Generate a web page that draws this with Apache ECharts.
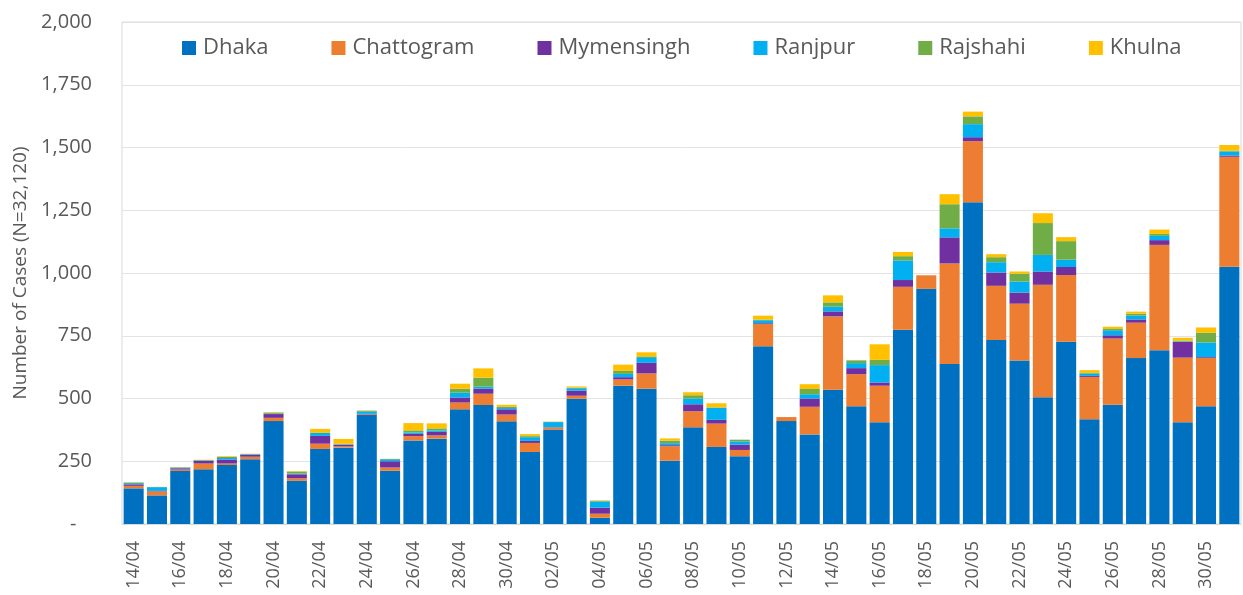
<!DOCTYPE html>
<html>
<head>
<meta charset="utf-8">
<script src="https://cdn.jsdelivr.net/npm/echarts@6/dist/echarts.min.js"></script>
<style>
  html, body { margin: 0; padding: 0; background: #fff; }
  #chart { width: 1243px; height: 595px; }
</style>
</head>
<body>
<div id="chart"></div>
<script>
// dates 14/04 - 31/05
var days = [
  '14/04','15/04','16/04','17/04','18/04','19/04','20/04','21/04','22/04','23/04',
  '24/04','25/04','26/04','27/04','28/04','29/04','30/04','01/05','02/05','03/05',
  '04/05','05/05','06/05','07/05','08/05','09/05','10/05','11/05','12/05','13/05',
  '14/05','15/05','16/05','17/05','18/05','19/05','20/05','21/05','22/05','23/05',
  '24/05','25/05','26/05','27/05','28/05','29/05','30/05','31/05'
];

// cases per division
var dhaka = [142,114,211,218,235,258,410,172,299,304,434,212,333,340,457,474,409,287,376,499,
             25,551,539,252,385,307,270,708,410,357,535,469,405,774,937,637,1282,733,651,505,
             726,417,475,661,692,405,469,1025];
var chattogram = [10,16,6,23,6,10,13,10,21,5,3,13,17,13,27,45,27,36,9,12,
                  16,25,61,58,64,93,25,89,16,110,292,128,146,171,54,401,243,216,227,448,
                  266,169,264,141,420,258,193,438];
var mymensingh = [6,2,5,10,16,8,15,16,31,6,2,25,9,14,20,20,21,8,1,20,
                  24,9,42,4,28,15,21,3,0,33,20,24,13,27,0,104,16,53,44,53,
                  32,4,13,13,19,62,3,5];
var ranjpur = [5,15,3,2,6,2,3,3,12,2,10,8,6,6,19,8,5,15,20,10,
               24,13,23,8,23,49,13,12,0,17,19,20,69,78,0,36,52,41,44,66,
               29,9,20,15,17,2,58,16];
var rajshahi = [2,0,1,2,5,1,2,8,0,3,2,1,8,8,16,36,6,4,1,2,
                4,12,0,10,13,0,7,2,0,21,17,11,21,17,0,96,31,20,31,127,
                74,3,5,8,8,4,39,3];
var khulna = [2,1,1,1,2,1,3,2,16,19,2,1,29,20,20,37,7,8,1,5,
              1,25,19,9,12,17,0,16,0,19,28,0,62,17,0,40,19,12,9,39,
              16,11,9,8,17,11,21,23];

var names = ['Dhaka','Chattogram','Mymensingh','Ranjpur','Rajshahi','Khulna'];
var colors = ['#0070C0','#ED7D31','#7030A0','#00B0F0','#70AD47','#FFC000'];
var values = [dhaka, chattogram, mymensingh, ranjpur, rajshahi, khulna];

var txt = '#595959';
var font = '"Open Sans", "Noto Sans", sans-serif';

var series = [];
for (var i = 0; i < names.length; i++) {
  series.push({
    name: names[i],
    type: 'bar',
    stack: 'cases',
    barCategoryGap: '14%',
    itemStyle: { color: colors[i] },
    data: values[i]
  });
}

var chart = echarts.init(document.getElementById('chart'), null, { renderer: 'canvas' });
chart.setOption({
  animation: false,
  textStyle: { fontFamily: font },
  grid: {
    left: 122, right: 2, top: 22, bottom: 71,
    show: true, borderColor: '#d9d9d9', borderWidth: 1
  },
  legend: {
    top: 32,
    left: 177,
    itemGap: 63,
    itemWidth: 14,
    itemHeight: 14,
    icon: 'rect',
    textStyle: { color: txt, fontSize: 22, fontFamily: font, padding: [0, 0, 0, 2] }
  },
  xAxis: {
    type: 'category',
    data: days,
    axisLine: { lineStyle: { color: '#d9d9d9' } },
    axisTick: { show: false },
    axisLabel: {
      interval: 1,
      rotate: 90,
      margin: 17,
      color: txt,
      fontSize: 18,
      fontFamily: font
    }
  },
  yAxis: {
    type: 'value',
    min: 0,
    max: 2000,
    interval: 250,
    name: 'Number of Cases (N=32,120)',
    nameLocation: 'middle',
    nameGap: 92,
    nameTextStyle: { color: txt, fontSize: 19, fontFamily: font },
    axisLine: { show: false },
    axisTick: { show: false },
    splitLine: { lineStyle: { color: '#e3e3e3' } },
    axisLabel: {
      margin: 30,
      color: txt,
      fontSize: 20,
      fontFamily: font,
      formatter: function (v) {
        return v === 0 ? '-   ' : v.toLocaleString('en-US');
      }
    }
  },
  series: series
});
</script>
</body>
</html>
